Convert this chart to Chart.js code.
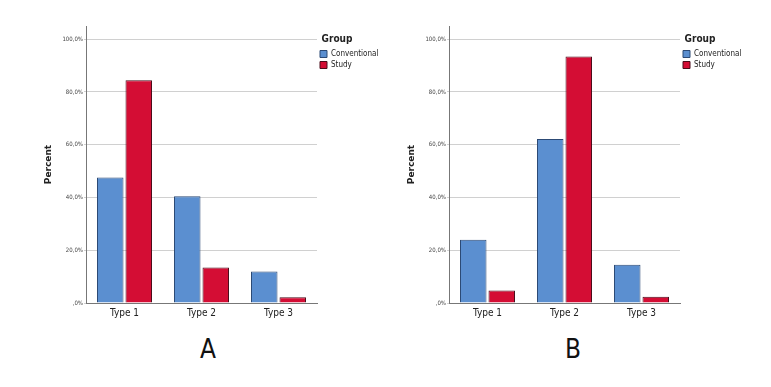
<!DOCTYPE html>
<html lang="en">
<head>
<meta charset="UTF-8">
<title>Percent by Type and Group</title>
<style>
    body { margin: 0; background: #fff; width: 771px; height: 387px; position: relative; overflow: hidden; }
    canvas { position: absolute; }
    #chartA { left: 43px; top: 20px; }
    #chartB { left: 406px; top: 20px; }
    .panel-label {
        position: absolute;
        font-family: 'Liberation Sans Narrow', 'DejaVu Sans Condensed', sans-serif;
        font-size: 26px;
        color: #111;
        top: 334px;
    }
    #labelA { left: 200px; }
    #labelB { left: 565px; }
</style>
</head>
<body>
<canvas id="chartA" width="340" height="304"></canvas>
<canvas id="chartB" width="340" height="304"></canvas>
<div class="panel-label" id="labelA">A</div>
<div class="panel-label" id="labelB">B</div>

<script src="https://cdn.jsdelivr.net/npm/chart.js"></script>
<script>
    // categories and groups
    const types = ['Type 1', 'Type 2', 'Type 3'];
    const groups = ['Conventional', 'Study'];

    // panel A values (percent)
    const conventionalA = [47.6, 40.5, 11.9];
    const studyA = [84.4, 13.5, 2.2];

    // panel B values (percent)
    const conventionalB = [24.0, 62.2, 14.5];
    const studyB = [4.7, 93.4, 2.4];

    const blue = '#5b8fd0';
    const red = '#d40d34';
    const narrow = "'Liberation Sans Narrow', 'DejaVu Sans Condensed', sans-serif";

    // plot area right edge inside each canvas; legend title is centred over this width
    const plotRight = 274;
    const titleSpan = 40;

    function makeChart(id, conv, study) {
        const ctx = document.getElementById(id).getContext('2d');
        return new Chart(ctx, {
            type: 'bar',
            data: {
                labels: types,
                datasets: [
                    {
                        label: groups[0],
                        data: conv,
                        backgroundColor: blue,
                        borderColor: '#2c4a75',
                        borderWidth: 1
                    },
                    {
                        label: groups[1],
                        data: study,
                        backgroundColor: red,
                        borderColor: '#4a0c1a',
                        borderWidth: 1
                    }
                ]
            },
            options: {
                responsive: false,
                animation: false,
                categoryPercentage: 0.74,
                barPercentage: 0.93,
                layout: { padding: { left: 0, top: 6, right: 0, bottom: 0 } },
                plugins: {
                    tooltip: { enabled: false },
                    legend: {
                        position: 'right',
                        align: 'start',
                        labels: {
                            boxWidth: 7,
                            boxHeight: 7,
                            padding: 3,
                            color: '#222',
                            font: { family: narrow, size: 8 }
                        },
                        title: {
                            display: true,
                            text: 'Group',
                            color: '#222',
                            padding: { top: 8, bottom: 1 },
                            font: { family: narrow, size: 10, weight: 'bold' }
                        }
                    }
                },
                scales: {
                    x: {
                        grid: { display: false, drawTicks: false },
                        border: { display: true, color: '#777', width: 1 },
                        ticks: {
                            color: '#222',
                            padding: 4,
                            font: { family: narrow, size: 10 }
                        },
                        afterFit: function (scale) { scale.height = 21; }
                    },
                    y: {
                        min: 0,
                        max: 105,
                        grid: {
                            color: '#d0d0d0',
                            lineWidth: 1,
                            drawTicks: true,
                            tickLength: 2
                        },
                        border: { display: true, color: '#777', width: 1 },
                        ticks: {
                            stepSize: 20,
                            includeBounds: false,
                            color: '#444',
                            padding: 1,
                            font: { family: narrow, size: 6 },
                            callback: function (v) {
                                return v === 0 ? ',0%' : v.toFixed(1).replace('.', ',') + '%';
                            }
                        },
                        title: {
                            display: true,
                            text: 'Percent',
                            color: '#222',
                            padding: { top: 0, bottom: 6 },
                            font: { family: 'DejaVu Sans', size: 9, weight: 'bold' }
                        },
                        afterFit: function (scale) { scale.width = 43; }
                    }
                }
            },
            plugins: [{
                // fixed legend width so the plot ends where it should,
                // then a narrower span for centring the "Group" title
                id: 'legendWidth',
                afterInit: function (chart) {
                    const legend = chart.legend;
                    const orig = legend.fit;
                    legend.fit = function () {
                        orig.call(this);
                        this.width = chart.width - plotRight;
                    };
                },
                afterLayout: function (chart) {
                    chart.legend.width = titleSpan;
                }
            }]
        });
    }

    makeChart('chartA', conventionalA, studyA);
    makeChart('chartB', conventionalB, studyB);
</script>
</body>
</html>
